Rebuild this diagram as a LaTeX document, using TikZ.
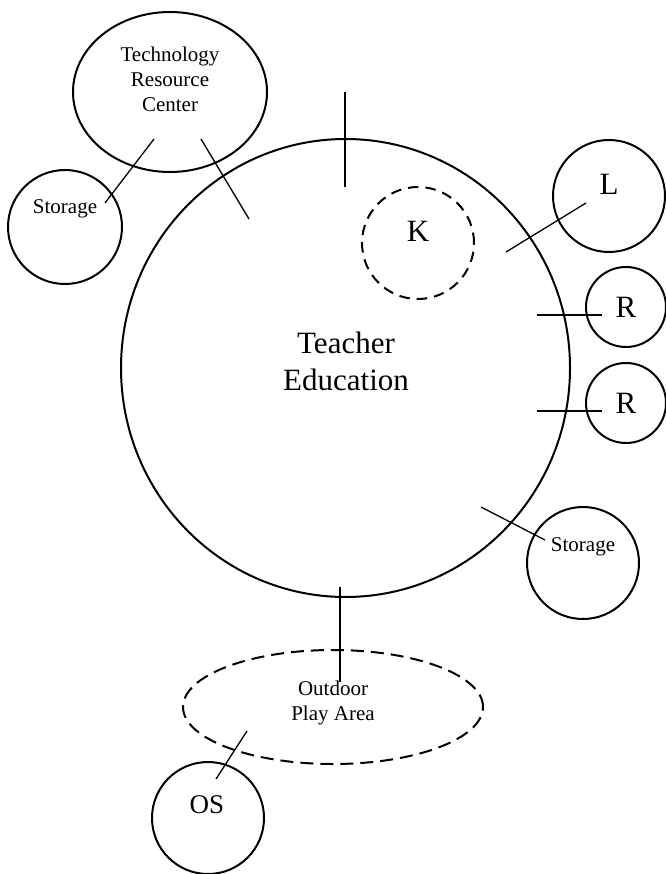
\documentclass[tikz,border=0pt]{standalone}
\usepackage{fontspec}
\setmainfont{Liberation Serif}
\usetikzlibrary{shapes.geometric}
\begin{document}
\begin{tikzpicture}[x=1pt,y=-1pt,
  room/.style={draw,circle,line width=2pt,inner sep=0pt},
  oval/.style={draw,ellipse,line width=2pt,inner sep=0pt},
  link/.style={line width=1.3pt},
  small/.style={font=\fontsize{21}{25}\selectfont,anchor=base,inner sep=0pt},
  big/.style={font=\fontsize{31}{37}\selectfont,anchor=base,inner sep=0pt},
  mid/.style={font=\fontsize{27}{32}\selectfont,anchor=base,inner sep=0pt}]
\useasboundingbox (0,0) rectangle (665,874);
% shapes
\node[oval,minimum width=449pt,minimum height=458pt] (te) at (345.5,368) {};
\node[oval,minimum width=194pt,minimum height=160pt] (trc) at (170,92) {};
\node[room,minimum size=114pt] (stl) at (65,227) {};
\node[room,dash pattern=on 10.5pt off 7pt,minimum size=112pt] (k) at (418,243) {};
\node[room,minimum size=112pt] (l) at (609,196) {};
\node[room,minimum size=80pt] (r1) at (626,307) {};
\node[room,minimum size=80pt] (r2) at (626,403) {};
\node[room,minimum size=112pt] (str) at (583,563) {};
\node[oval,dash pattern=on 13pt off 7pt,minimum width=300pt,minimum height=114pt] (opa) at (333,707) {};
\node[room,minimum size=112pt] (os) at (208,818) {};
% texts
\node[small] (t1) at (170,62) {Technology};
\node[small] (t2) at (170,87) {Resource};
\node[small] (t3) at (170,112) {Center};
\node[small] (tsl) at (65,214) {Storage};
\node[big] (tte1) at (346,353) {Teacher};
\node[big] (tte2) at (346,390) {Education};
\node[big] (tk) at (418,242) {K};
\node[big] (tl) at (609,195) {L};
\node[big] (tr1) at (626,317) {R};
\node[big] (tr2) at (626,413) {R};
\node[small] (tsr) at (583,551) {Storage};
\node[small] (to1) at (333,695) {Outdoor};
\node[small] (to2) at (333,720) {Play Area};
\node[mid] (tos) at (207,813) {OS};
% connector ends
\coordinate (a1) at (154,139); \coordinate (a2) at (105,203);
\coordinate (b1) at (201,139); \coordinate (b2) at (249,219);
\coordinate (c1) at (345,92);  \coordinate (c2) at (345,187);
\coordinate (d1) at (506,252); \coordinate (d2) at (586,203);
\coordinate (e1) at (537,315); \coordinate (e2) at (602,315);
\coordinate (f1) at (537,411); \coordinate (f2) at (602,411);
\coordinate (g1) at (481,507); \coordinate (g2) at (545,540);
\coordinate (h1) at (340,587); \coordinate (h2) at (340,682);
\coordinate (i1) at (247,731); \coordinate (i2) at (216,779);
% connectors
\draw[link] (a1) -- (a2);
\draw[link] (b1) -- (b2);
\draw[link] (c1) -- (c2);
\draw[link] (d1) -- (d2);
\draw[link] (e1) -- (e2);
\draw[link] (f1) -- (f2);
\draw[link] (g1) -- (g2);
\draw[link] (h1) -- (h2);
\draw[link] (i1) -- (i2);
\end{tikzpicture}
\end{document}
